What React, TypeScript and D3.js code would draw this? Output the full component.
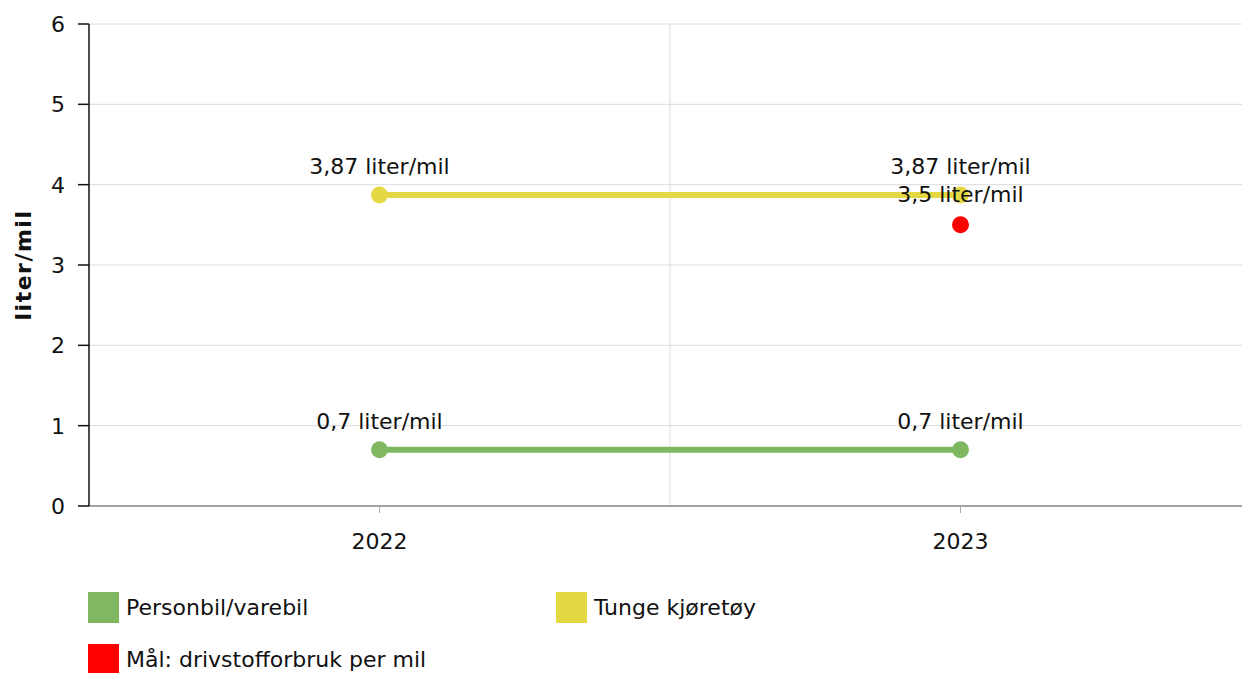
import React from "react";
import * as d3 from "d3";

const categories = ["2022", "2023"];
const personbil = [0.7, 0.7];
const tunge = [3.87, 3.87];
const maal = [{ cat: "2023", value: 3.5 }];
const yTicks = [0, 1, 2, 3, 4, 5, 6];
const seriesNames = ["Personbil/varebil", "Tunge kjøretøy", "Mål: drivstofforbruk per mil"];
const colors = ["#80b862", "#e4d944", "#ff0000"];

const W = 1242, H = 673;
const M = { left: 89, right: 1251, top: 24, bottom: 506 };
const FONT = "Verdana, 'DejaVu Sans', sans-serif";
const FS = 22;

const fmt = (v: number) => String(v).replace(".", ",") + " liter/mil";

export default function App() {
  const x = d3.scaleBand<string>().domain(categories).range([M.left, M.right]);
  const cx = (c: string) => (x(c) as number) + x.bandwidth() / 2;
  const y = d3.scaleLinear().domain([0, 6]).range([M.bottom, M.top]);
  const line = d3.line<[string, number]>().x(d => cx(d[0])).y(d => y(d[1]));
  const lines = [
    { vals: personbil, color: colors[0] },
    { vals: tunge, color: colors[1] },
  ];
  return (
    <svg width={W} height={H} style={{ position: "absolute", left: 0, top: 0 }} fontFamily={FONT}>
      {/* gridlines */}
      {yTicks.map(t => (
        <line key={t} x1={M.left} x2={W} y1={y(t)} y2={y(t)} stroke="#dcdcdc" strokeWidth={1} />
      ))}
      <line x1={M.left + x.bandwidth()} x2={M.left + x.bandwidth()} y1={M.top} y2={M.bottom} stroke="#dcdcdc" />
      {/* x axis */}
      <line x1={M.left} x2={W} y1={M.bottom} y2={M.bottom} stroke="#888" strokeWidth={1.5} />
      {categories.map(c => (
        <g key={c}>
          <line x1={cx(c)} x2={cx(c)} y1={M.bottom} y2={M.bottom + 7} stroke="#aaa" />
          <text x={cx(c)} y={M.bottom + 43} textAnchor="middle" fontSize={FS} fill="#111">{c}</text>
        </g>
      ))}
      {/* y axis */}
      <line x1={M.left} x2={M.left} y1={M.top} y2={M.bottom} stroke="#111" strokeWidth={1.5} />
      {yTicks.map(t => (
        <g key={t}>
          <line x1={M.left - 11} x2={M.left} y1={y(t)} y2={y(t)} stroke="#111" strokeWidth={1.5} />
          <text x={M.left - 24} y={y(t) + 8} textAnchor="end" fontSize={FS} fill="#111">{t}</text>
        </g>
      ))}
      <text transform={`translate(31,${(M.top + M.bottom) / 2}) rotate(-90)`} textAnchor="middle" fontSize={FS} fontWeight="bold" letterSpacing={1.5} fill="#111">liter/mil</text>
      {/* lines */}
      {lines.map((s, i) => {
        const pts = categories.map((c, j) => [c, s.vals[j]] as [string, number]);
        return (
          <g key={i}>
            <path d={line(pts) as string} fill="none" stroke={s.color} strokeWidth={6} />
            {pts.map((p, j) => (
              <circle key={j} cx={cx(p[0])} cy={y(p[1])} r={8.5} fill={s.color} />
            ))}
          </g>
        );
      })}
      {maal.map((m, i) => (
        <circle key={i} cx={cx(m.cat)} cy={y(m.value)} r={8.5} fill={colors[2]} />
      ))}
      {/* labels */}
      {lines.map((s, i) =>
        categories.map((c, j) => (
          <text key={`${i}-${j}`} x={cx(c)} y={y(s.vals[j]) - 21} textAnchor="middle" fontSize={FS} fill="#111">{fmt(s.vals[j])}</text>
        ))
      )}
      {maal.map((m, i) => (
        <text key={i} x={cx(m.cat)} y={y(m.value) - 23} textAnchor="middle" fontSize={FS} fill="#111">{fmt(m.value)}</text>
      ))}
      {/* legend */}
      {[
        { name: seriesNames[0], color: colors[0], x: 88, y: 592 },
        { name: seriesNames[1], color: colors[1], x: 556, y: 592 },
        { name: seriesNames[2], color: colors[2], x: 88, y: 644 },
      ].map((l, i) => (
        <g key={i}>
          <rect x={l.x} y={l.y} width={31} height={31} fill={l.color} />
          <text x={l.x + 38} y={l.y + 23} fontSize={FS} fill="#111">{l.name}</text>
        </g>
      ))}
    </svg>
  );
}
